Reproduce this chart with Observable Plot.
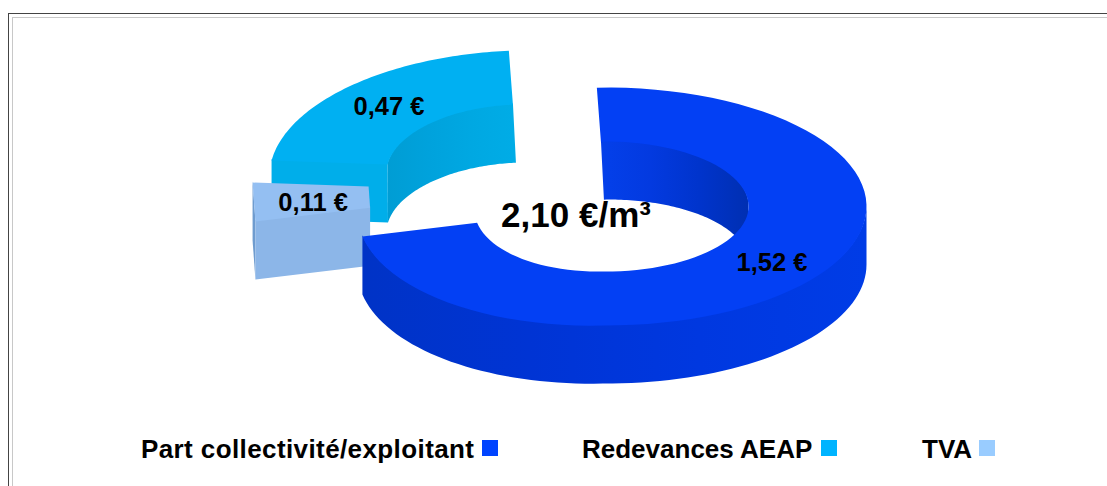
<!DOCTYPE html>
<html lang="fr">
<head>
<meta charset="utf-8">
<script src="https://cdn.jsdelivr.net/npm/d3@7"></script>
<script src="https://cdn.jsdelivr.net/npm/@observablehq/plot@0.6"></script>
<style>
  html, body { margin: 0; padding: 0; background: #fff; }
  #page { position: relative; width: 1107px; height: 486px; overflow: hidden; font-family: "Liberation Sans", Arial, sans-serif; }
  #frame-outer { position: absolute; left: 8px; top: 13px; right: -5px; bottom: -5px; border: 1px solid #444; }
  #frame-inner { position: absolute; left: 12px; top: 17px; right: -5px; bottom: -5px; border: 1px solid #c8c8c8; }
  #chart { position: absolute; left: 0; top: 0; }
  #chart svg { background: transparent; display: block; }
  .key { position: absolute; top: 433px; height: 32px; line-height: 32px; font-size: 26px; font-weight: bold; color: #000; white-space: nowrap; }
  .swatch { position: absolute; top: 440px; width: 16px; height: 16px; }
</style>
</head>
<body>
<div id="page">
  <div id="frame-outer"></div>
  <div id="frame-inner"></div>
  <div id="chart"></div>
  <div id="legend"></div>
</div>
<script>
// Prix de l'eau : répartition en euros par m³
const categories = ["Part collectivité/exploitant", "Redevances AEAP", "TVA"];
const values = [1.52, 0.47, 0.11];
const legendColors = ["#0044ff", "#00b4ff", "#99ccff"];

// Ring shape and the way each slice is pulled out of it
const width = 1107, height = 430;
const startAngle = -2, depth = 58, overlap = 1.2, lean = 3;
const ring = {
  outer: {rxR: 261, rxL: 248, ry: 119, tilt: 6.5},
  inner: {rxR: 143, rxL: 131, ry: 65, tilt: 3.5}
};
const look = [
  {center: [605, 206], top: "#0340f4",
   outerStops: ["#003ce6", "#0038e0", "#0034d4", "#0033c6"],
   innerStops: ["#0440ea", "#033ae0", "#0034cc", "#002fb2"], nudge: [8, -1]},
  {center: [517, 169], top: "#00b0f2", end: "#00aeea",
   innerStops: ["#009dd4", "#00a2dc", "#00a8e2", "#00ace6"], nudge: [-1, 2]},
  {center: [498, 191], top: "#94bff2", end: "#8cb6e8",
   outerStops: ["#6f9ccf", "#6f9ccf"], nudge: [4, 3]}
];

// Slices are laid out clockwise from the top: collectivité, TVA, then redevances
const total = d3.sum(values);
const clockwise = [0, 2, 1];
let running = startAngle;
const spans = [];
for (const i of clockwise) {
  const sweep = values[i] / total * 360;
  spans[i] = [running, running + sweep];
  running += sweep;
}

const euro = v => d3.format(".2f")(v).replace(".", ",");

function point(center, angle, kind, drop = 0) {
  const a = angle * Math.PI / 180, s = Math.sin(a), c = Math.cos(a), e = ring[kind];
  const leftward = s < 0 ? -s * e.tilt : 0;
  // The lower rim of the hole leans slightly to the right towards the back of the ring
  const shift = kind === "inner" && drop > 0 ? lean * Math.max(c, 0) : 0;
  return {x: center[0] + s * (s > 0 ? e.rxR : e.rxL) + shift, y: center[1] - c * e.ry + leftward + drop};
}
// Very narrow slices read as flat blocks, so their rims stay straight
function arc(center, a0, a1, kind, drop = 0) {
  const steps = Math.abs(a1 - a0) < 30 ? 1 : 80;
  return d3.range(0, steps + 1).map(k => point(center, a0 + (a1 - a0) * k / steps, kind, drop));
}

const shapes = [];
const gradients = [];
let nextId = 0;
function addShape(points, color) {
  const id = nextId++;
  for (const p of points) shapes.push({id, x: p.x, y: p.y, color});
}
// A curved wall is one outline shaded by a horizontal gradient along the ring.
// Its upper rim tucks under the top face so no seam shows between them.
function addWall(center, a0, a1, kind, stops) {
  const name = `wall-${gradients.length}`;
  gradients.push({name, x1: point(center, a0, kind).x, x2: point(center, a1, kind).x, stops});
  addShape([...arc(center, a0, a1, kind, -overlap), ...arc(center, a1, a0, kind, depth)], `url(#${name})`);
}
function addEndFace(center, angle, color) {
  addShape([point(center, angle, "outer", -overlap), point(center, angle, "inner", -overlap),
            point(center, angle, "inner", depth), point(center, angle, "outer", depth)], color);
}
function addTop(i) {
  const [a0, a1] = spans[i], c = look[i].center;
  addShape([...arc(c, a0, a1, "outer"), ...arc(c, a1, a0, "inner")], look[i].top);
}

// Painted back to front: redevances, TVA, then the large slice
{
  const [a0, a1] = spans[1], st = look[1];
  addEndFace(st.center, a0, st.end);
  addWall(st.center, a0, a1, "inner", st.innerStops);
  addTop(1);
}
{
  const [a0, a1] = spans[2], st = look[2];
  addWall(st.center, a0, a1, "outer", st.outerStops);
  addEndFace(st.center, a0, st.end);
  addTop(2);
}
{
  const [a0, a1] = spans[0], st = look[0];
  addWall(st.center, 90, a1, "outer", st.outerStops);
  addWall(st.center, a0, 92, "inner", st.innerStops);
  addTop(0);
}

// Value labels sit half-way across each slice's top face
const labels = values.map((v, i) => {
  const mid = (spans[i][0] + spans[i][1]) / 2;
  const o = point(look[i].center, mid, "outer"), n = point(look[i].center, mid, "inner");
  return {x: (o.x + n.x) / 2 + look[i].nudge[0], y: (o.y + n.y) / 2 + look[i].nudge[1], text: `${euro(v)} €`};
});

const wallGradients = () => {
  const defs = d3.create("svg:defs");
  for (const g of gradients) {
    const lg = defs.append("linearGradient")
      .attr("id", g.name).attr("gradientUnits", "userSpaceOnUse")
      .attr("x1", g.x1).attr("x2", g.x2).attr("y1", 0).attr("y2", 0);
    g.stops.forEach((c, k) => lg.append("stop").attr("offset", k / (g.stops.length - 1)).attr("stop-color", c));
  }
  return defs.node();
};

const plot = Plot.plot({
  width, height,
  margin: 0,
  x: {domain: [0, width], range: [0, width], axis: null},
  y: {domain: [0, height], range: [0, height], axis: null},
  color: {type: "identity"},
  style: {background: "transparent"},
  marks: [
    wallGradients,
    Plot.line(shapes, {x: "x", y: "y", z: "id", fill: "color", stroke: "none", curve: "linear-closed"}),
    Plot.text(labels, {x: "x", y: "y", text: "text", fontSize: 25.5, fontWeight: "bold", fontFamily: "Liberation Sans", fill: "#000"}),
    Plot.text([`${euro(total)} €/m³`], {x: () => 575.5, y: () => 215, text: d => d, fontSize: 35, fontWeight: "bold", fontFamily: "Liberation Sans", fill: "#000"})
  ]
});
document.getElementById("chart").append(plot);

// Legend row under the ring
const legend = document.getElementById("legend");
const keyLeft = [141, 582, 922], keySpacing = [0.4, 0, 0], swatchLeft = [482, 821, 979];
categories.forEach((name, i) => {
  const key = document.createElement("span");
  key.className = "key";
  key.style.left = keyLeft[i] + "px";
  key.style.letterSpacing = keySpacing[i] + "px";
  key.textContent = name;
  const sw = document.createElement("span");
  sw.className = "swatch";
  sw.style.left = swatchLeft[i] + "px";
  sw.style.background = legendColors[i];
  legend.append(key, sw);
});
</script>
</body>
</html>
